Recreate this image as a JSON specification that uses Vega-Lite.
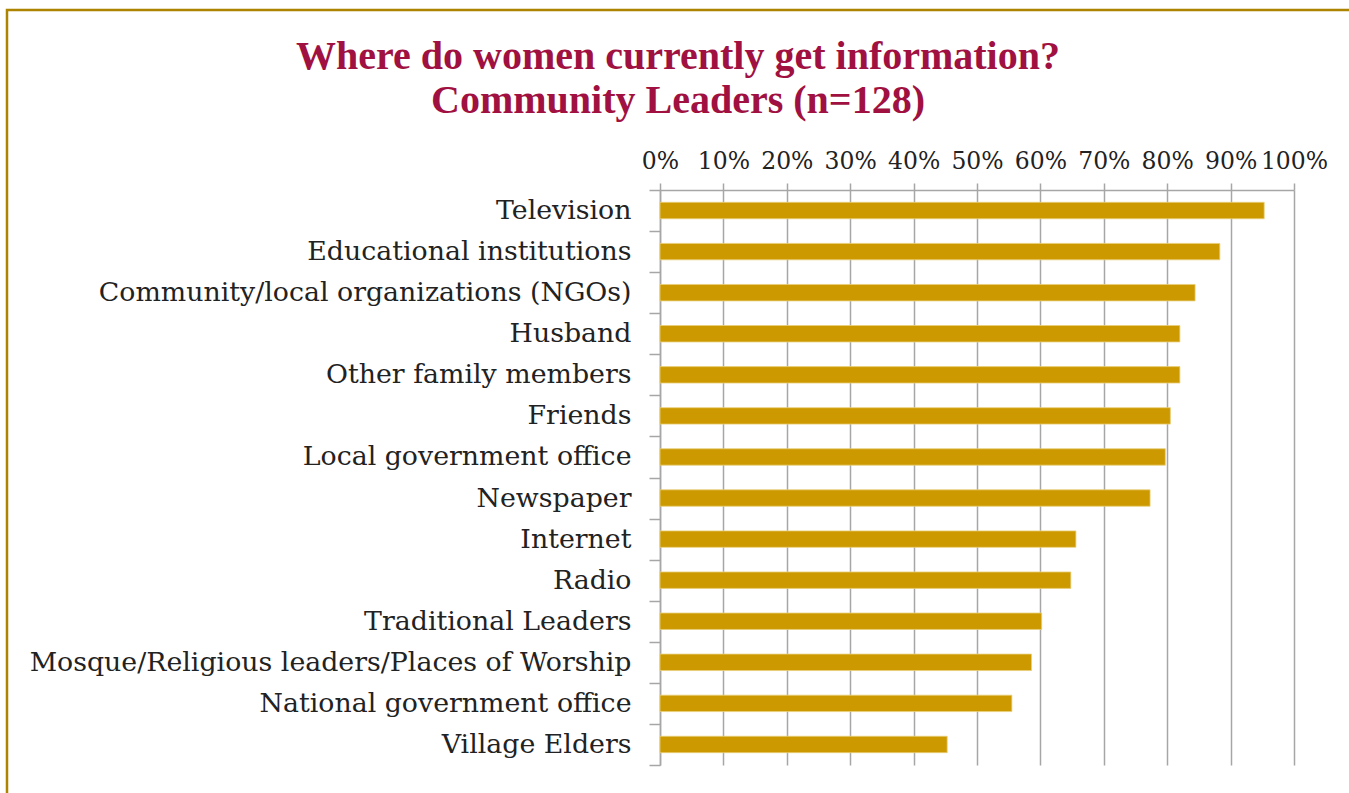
{
  "$schema": "https://vega.github.io/schema/vega-lite/v6.json",
  "width": 1342,
  "height": 783,
  "autosize": {"type": "none"},
  "padding": {"left": 7, "top": 10, "right": 0, "bottom": 0},
  "background": "white",
  "title": {
    "text": ["Where do women currently get information?", "Community Leaders (n=128)"],
    "font": "Liberation Serif",
    "fontWeight": "bold",
    "fontSize": 40,
    "color": "#A01040",
    "anchor": "middle",
    "frame": "group",
    "offset": -124,
    "lineHeight": 44
  },
  "data": {
    "values": [
      {"source": "Television", "pct": 0.953},
      {"source": "Educational institutions", "pct": 0.883},
      {"source": "Community/local organizations (NGOs)", "pct": 0.844},
      {"source": "Husband", "pct": 0.82},
      {"source": "Other family members", "pct": 0.82},
      {"source": "Friends", "pct": 0.805},
      {"source": "Local government office", "pct": 0.797},
      {"source": "Newspaper", "pct": 0.773},
      {"source": "Internet", "pct": 0.656},
      {"source": "Radio", "pct": 0.648},
      {"source": "Traditional Leaders", "pct": 0.602},
      {"source": "Mosque/Religious leaders/Places of Worship", "pct": 0.586},
      {"source": "National government office", "pct": 0.555},
      {"source": "Village Elders", "pct": 0.453}
    ]
  },
  "mark": {"type": "bar", "color": "#CC9900", "stroke": "#E8CF7A", "strokeWidth": 0.8, "height": {"band": 0.4}},
  "encoding": {
    "y": {
      "field": "source",
      "type": "nominal",
      "sort": null,
      "scale": {"range": [180, 755], "paddingInner": 0, "paddingOuter": 0},
      "axis": {
        "orient": "left",
        "offset": -653,
        "title": null,
        "tickBand": "extent",
        "ticks": true,
        "tickSize": 11,
        "tickColor": "#A6A6A6",
        "tickWidth": 1.5,
        "domain": true,
        "domainColor": "#A6A6A6",
        "domainWidth": 1.5,
        "grid": false,
        "labelFont": "DejaVu Serif",
        "labelFontSize": 26.8,
        "labelColor": "#222222",
        "labelPadding": 18,
        "labelLimit": 0
      }
    },
    "x": {
      "field": "pct",
      "type": "quantitative",
      "scale": {"domain": [0, 1], "range": [653, 1287], "nice": false},
      "axis": {
        "orient": "top",
        "offset": -180,
        "title": null,
        "format": ".0%",
        "values": [0, 0.1, 0.2, 0.3, 0.4, 0.5, 0.6, 0.7, 0.8, 0.9, 1],
        "labelOverlap": false,
        "labelBound": false,
        "labelFlush": false,
        "grid": true,
        "gridColor": "#A6A6A6",
        "gridWidth": 1.5,
        "domainColor": "#A6A6A6",
        "domainWidth": 1.5,
        "tickColor": "#A6A6A6",
        "tickWidth": 1.5,
        "tickSize": 7,
        "labelFont": "DejaVu Serif",
        "labelFontSize": 23.5,
        "labelColor": "#222222",
        "labelPadding": 10
      }
    }
  },
  "config": {
    "view": {"stroke": "#AC8400", "strokeWidth": 2.5, "strokeDash": [1342, 2125, 783]}
  }
}
